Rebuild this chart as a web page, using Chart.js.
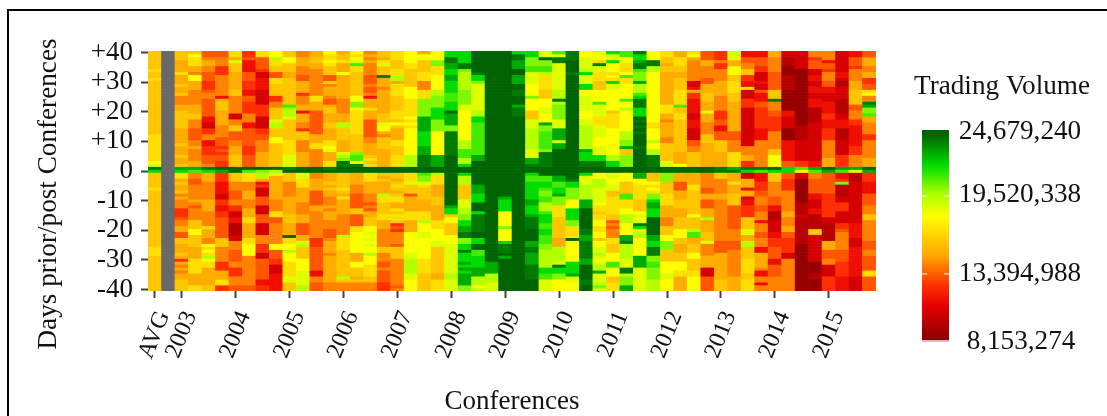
<!DOCTYPE html>
<html>
<head>
<meta charset="utf-8">
<title>Trading Volume</title>
<script src="https://cdn.jsdelivr.net/npm/chart.js@4/dist/chart.umd.min.js"></script>
<style>
  html, body { margin: 0; background: #fff; }
  canvas { display: block; }
</style>
</head>
<body>
<canvas id="heat" width="1107" height="416"></canvas>
<script>
// one label per column, empty ones get no tick
const conferences = ["AVG", "",
  "2003", "", "", "", "2004", "", "", "", "2005", "", "", "", "2006", "", "", "",
  "2007", "", "", "", "2008", "", "", "", "2009", "", "", "", "2010", "", "", "",
  "2011", "", "", "", "2012", "", "", "", "2013", "", "", "", "2014", "", "", "",
  "2015", "", "", ""];

const dayTicks = [40, 30, 20, 10, 0, -10, -20, -30, -40];
const legendVolumes = [24679240, 19520338, 13394988, 8153274];

// volume in millions for each letter
const levelLetters = "abcdefghijklmnopqrs";
const levelMillions = [8.5, 9.5, 10.3, 11.3, 12.4, 13.2, 14.1, 15, 15.9, 16.8, 17.9, 18.6, 19.4, 20.2, 21, 21.9, 22.9, 23.9, 24.5];

// one string per column, top row is day +40, bottom row is day -40, x = no data
const volumeByColumn = [
  "iiiiiijiij iiiiiiiiii iiiiiiiijj jjjjjjjklr p iiiiijiiii iiiiiiiiii iiiiijjjii iiiiiiiiii",
  "xxxxxxxxxx xxxxxxxxxx xxxxxxxxxx xxxxxxxxxx x xxxxxxxxxx xxxxxxxxxx xxxxxxxxxx xxxxxxxxxx",
  "iiihhhhjhh hihhiggghh iiiiiihhhh hihhhihhiq p jjhihhighg ggeeefgghh ffiihhhihe hghghhiiii",
  "ikjjjhhgkk hhhggggghh hiigggffff gghgggghhq o ggffgggggh gfggggiiik kiiiihhhhj jjjjhhhhjj",
  "ffghhggfff eeefggffff ffddcceegg ddeeefffgr p hhhggggggh hhhgggggjh hhggkjkjmk jjhhhhhhii",
  "ffgggeeegg gggggdhiii hhhhhggggf ffefeffees q eeeddddcce eddeefffff ffiiiggggg eeehhhjjee",
  "jjhliiihhh hhhiiggggg gccggiifff gghhhiiiis s iiigggfffg geeccddbbb bccgggffff ggeeegggff",
  "eefddddfff eeeddffeee egggddffff ffeeeffffs o jjjggghhhg gghhhjjhhh hhjjkkkkgg ggggggggff",
  "jjffffeccd dddcccccee eecccceeff gggghhhhhs n mmhdecccff fcccfffccc cgggeeeccf ffffffddee",
  "kkmjjiiffj jiiiieeggi iiilmmiiik kiiiiiiiis m lhhhhhhhhg gggjjffggg ggggkkfffe ecccdddddd",
  "iikkiiihhi iiiiiiiiom mmliiiiiii jjjjjllllr s iiiggggghh hhhhiiihhh hsjjkkmkkk jjjjjlliii",
  "gghhhgggff hhhheggghh dhhhggeiii gggghhhhhs s lljjjhhhhh gggghhhfff fhhlmiiiik kkklllllmm",
  "hhiihhgggg gggggjjhhh ffffffffhh hjjggggggs s gghhhhffff fhhggggggg ggeeefffff fffddggfff",
  "kjjkjiiiff ighhhgffhi ihhhiihhhh jjklhhhjjr s hhhihihhgg ghghhhgggf ffghhhhghh hhhhhhhggg",
  "hiijhhhkhh hhhhhhgggg ghhhmmiiii hhhhlmnrrs s iiiiijihjh hhhhgggggg gmjjjjiiii iiiiimiggg",
  "kjklojjiii iiiiikknnk jjjjjjjjii iiiinookrs s hhhhgggfff ffiiffffjj kkkkkkkhhh kkiiihiggg",
  "ghghggggff fgffgdhhhj hhhffffffg ghhhhijijs s jjjhhhhggg fgfhhiiikk lklklkkmkk kjjjjiiggg",
  "iihjliiirh hhghhhhhhh hiiilkkhgi iiihhhhhhs s ihihhhhmjj iiiijjhhhg gggggiiggg ffgffffeee",
  "jjjiiijjmm hjjjjiiiii jjjikihhhh jjiiijjjjs s iihijihijj hhjijjiefe ggggfiiiig ggggggggfg",
  "kkkkjjiiii iikkkkjjjj jjkjkjkkkk kkkkkmmmms s jjjliiifhh hhhjjjhhhh kkkkkkkllm mmmmllkkkk",
  "hkkiiiijjj gggjjjnnnn nnqqqqqppp ppqqqrrrrs s onnljiiiih hhhjjjmkkk llkkkkkkkj jjjjiiiiii",
  "kkknnjjjkk kkkmmnnnnp pppnnnnkkk kkkkkqqqqs s mjjjhhhhii ihhhhhjjjk kkklliiiii iiiihhjjjj",
  "pprrqqppqq ppppoooppp sqqqqnnrrr rrrrrsssss s ssssssssss sqppikkiii ikkkllllll llllmmllll",
  "pppprrnmmm mmmnnnnnll kkkkkkkkkk mmmooommps s pmmmiiiiil llmmnnppqq rrnnpprppp qpqpqqqqnn",
  "sssssssrpp nlllllllll mmppoooooo oooooqqsss s ssssqqqppp sssprrrrrr ssppssoopp ppqqqmmmkm",
  "ssssssssss ssssssssss ssssssssss ssssssssss s ssssssssss ssssssssss ssssssssss qqqqmmmlll",
  "ssssssssss ssssssssss ssssssssss ssssssssss s ssssssssqp pppkkkkknk kkkprrrsqs ssssssssss",
  "prrqqqssqq qssrrsssqr rrssssssss ssssssssss s ssssssssss ssssssssss ssssssssss ssssssssss",
  "ppnnnoolll lkkkknkkkk iiilllmmmm mmmlllqqrs s pooppppppq qpppqrrrrs sssqqrrqqq qrrrrrssss",
  "llsnnoomjj jjjiiikkkl lkkkqnnooo ooonrrrrrs s soopponnoo mmmopppoop pooonnmmmm mmppoollll",
  "olrrllllll lllmmmrmnn nnnlllqqqq lqqsssssss s sqqooppqnn njjjjiiiii iihhhmmmmm lrppnnkkkk",
  "rrrssssrss ssssssssss ssssssssss ssssssssss s ssrppnnnnk kkppppnnjj jjskkkkkkk ppppqllkkk",
  "kkllllmpll lppkklllll kkkllmmmmm mmmqppprrs s plllmmmmmq qqsssssssr rqqrrrrrrq qsssssrrss",
  "lkkjrlljjj iiikkkkoll lljjjllllk kklllpprrs s kkmmmlllll kjjijjkkjj kkikkllmlk lmmqlllmnl",
  "pllpkkkjkj pllkkkkkkk ijjjjjkkkk kkkkkmmpps s llkklliijj jjjjiifgfg ggjjiiikkk ookkkiijjj",
  "ookkjjjkoj jkkkkkokkm kkkkkkkmmm nnqiinnnns s kkkiiiiooj jjkkmmmkkk kqqrmmmmml llrrmnnnqq",
  "rppqrronnn qmmmoprrrp ppsrsrsrss ssrsssssss s qqkkjjjjji iiiklklrpl mmkkkkkkqq qqllllllll",
  "kkkrrmmkkk kkkkkkkkkk kkkkjjkkkk mkkmmrrrrs s iiikjkjnnp qqpppsssss sqqpprrrnn oonnnnmmmm",
  "jjiihiihhh hhhhhhhhjj jhhghhhhhg giiiiiills s nnniiiijjj jhhhhgggii ikknnniiii kkkkllkkkk",
  "hhjjjiihhi iiijjjjjoi ijjiiiiiii iiiihhhhks s hhhfffhhhi iihhhiiiik kkiihhhiii kkkjjhhhhh",
  "jkhggggggg ccdheedddd dccdddcccc ffggiiiiis s hhhhjjiiii iiiikiiiim oohhiiikki iiijjkkkkk",
  "fffhhggggf fhhhiiihhh lhhhggggii ihhhhhhhhs s gggggffhhf ffhhhmhhhh iiilgggghh hhcccfffff",
  "eeegeegggg hhhhhggggg eeeffddfff iiiihhhhhr r iiggggghhg gggggggggg gggffffhhh hhhhhhiiii",
  "lllhhkkkii jjjjiiihhh hhhhhhhfff ggggjjjjjq r hhhjhhhiii iffffffffg gggfffgggg ggggghhhhh",
  "ddffggiiee ddjccceeec cccccccccc ccggghheer p cchhhdhhcd deeeeiiiil lhhmmiiiij jjjjiijjjj",
  "ddfffeeccc dccfdddffe eeeeeedddd gggggggggr o dddeeeffgg gffgggdggg ffgggddhhh hhgddggdgg",
  "hhgggggfff fffiiirggg ffeeeeeggg gggiikkkks p iiigggggff fddbbbcccc ddeeeffffd dffffggggg",
  "ccbbbaaabb bbbaaaaaaa ddccccaaaa dddddddffp p ffeeeegggg ggghhggghh ffeeeeeccg gggggggggg",
  "ccccccaaaa aaaaaaaaaa aaaaabbbbb ccccccceeo k ccaaaaaaaa bbbbcbbbbb bbbbaaaaaa aaaaaaaaaa",
  "ggefffccdd ccddccdddb bbbbcccccc cccccccddq o ggfffffddc ccddbbbbbi iccccccccc aaaabbaaaa",
  "gggdffeggg ffddcccddd deedddeeee gggggghhhs q fffffffeee eeeeeccbbb bbbhhhfffg gcccceeeee",
  "cccccccddc bbccccbbbb bccdddbbbb ccccceeeeq o ddenbbbbcc eeecccceef ggggggffff eeeeeddddd",
  "ddfffegggg hhhiiiiiff gggeeddddd ddeeeggggq l bbbccccccc cccccccddd ddcccddddd dddddccccc",
  "ffhhhgghhe effjkggrqn nohhggggee gggggghhhs q eeeddddfff fgggiigggg gggfffggff fffjjfffff"
];

// colour ramp, position is share of the way down the colour bar
const rampPositions = [0, 0.02, 0.17, 0.3, 0.41, 0.6, 0.74, 0.84, 1];
const rampColors = ["#006400", "#006400", "#00dd00", "#a5ff00", "#ffff00", "#ffa500", "#ff3000", "#e60000", "#8b0000"];

const SERIF = '"Liberation Serif", "Times New Roman", serif';
const MAX_VOL = legendVolumes[0];
const MIN_VOL = legendVolumes[3];

function hexToRgb(hex) {
    return [1, 3, 5].map(i => parseInt(hex.slice(i, i + 2), 16));
}

function volumeColor(millions) {
    const t = (MAX_VOL - millions * 1e6) / (MAX_VOL - MIN_VOL);
    let i = 0;
    while (i < rampPositions.length - 2 && t > rampPositions[i + 1]) i++;
    const f = Math.min(1, Math.max(0, (t - rampPositions[i]) / (rampPositions[i + 1] - rampPositions[i])));
    const a = hexToRgb(rampColors[i]);
    const b = hexToRgb(rampColors[i + 1]);
    const c = a.map((v, k) => Math.round(v + (b[k] - v) * f));
    return `rgb(${c[0]},${c[1]},${c[2]})`;
}

const columns = volumeByColumn.map(s => s.replace(/ /g, ""));
columns.forEach((s, i) => {
    if (s.length !== 81) throw new Error("column " + i + " has " + s.length + " rows");
});

function cellColor(letter) {
    const idx = levelLetters.indexOf(letter);
    return idx < 0 ? "#696969" : volumeColor(levelMillions[idx]);
}

// one floating bar dataset per day, every column gets its own colour
const datasets = [];
for (let r = 0; r < 81; r++) {
    const day = 40 - r;
    datasets.push({
        data: conferences.map(() => [day - 0.5, day + 0.5]),
        backgroundColor: columns.map(s => cellColor(s[r])),
        borderWidth: 0,
        barPercentage: 1,
        categoryPercentage: 1,
        grouped: false,
    });
}

const frameAndLegend = {
    id: "frameAndLegend",
    afterDraw(chart) {
        const ctx = chart.ctx;
        ctx.save();

        // outer frame, only left and top are inside the picture
        ctx.fillStyle = "#000";
        ctx.fillRect(7, 9, 1100, 2);
        ctx.fillRect(7, 9, 2, 407);

        ctx.fillStyle = "#111";
        ctx.font = "27.2px " + SERIF;
        ctx.textAlign = "center";
        ctx.textBaseline = "middle";

        ctx.save();
        ctx.translate(49, 194);
        ctx.rotate(-Math.PI / 2);
        ctx.fillText("Days prior/post Conferences", 0, 0);
        ctx.restore();

        ctx.fillText("Trading Volume", 1002, 87);

        // colour bar
        const barX = 922, barW = 27, barTop = 130, barH = 210;
        const grad = ctx.createLinearGradient(0, barTop, 0, barTop + barH);
        rampPositions.forEach((p, i) => grad.addColorStop(p, rampColors[i]));
        ctx.fillStyle = grad;
        ctx.fillRect(barX, barTop, barW, barH);
        ctx.fillStyle = "#e8b4bc";
        ctx.fillRect(barX, barTop + barH, barW, 2);

        const labelY = [132, 195, 274, 342];
        ctx.textAlign = "center";
        legendVolumes.forEach((v, i) => {
            ctx.fillStyle = "#111";
            ctx.fillText(v.toLocaleString("en-US"), i === 3 ? 1021 : 1020, labelY[i]);
            if (i === 1 || i === 2) {
                const y = barTop + barH * (MAX_VOL - v) / (MAX_VOL - MIN_VOL);
                ctx.fillStyle = "#fff";
                ctx.fillRect(barX, y, 5, 1);
                ctx.fillRect(barX + barW - 5, y, 5, 1);
            }
        });
        ctx.restore();
    },
};

new Chart(document.getElementById("heat").getContext("2d"), {
    type: "bar",
    data: { labels: conferences, datasets },
    options: {
        responsive: false,
        devicePixelRatio: 1,
        animation: false,
        events: [],
        layout: { padding: { top: 51, right: 231, left: 0, bottom: 0 } },
        plugins: { legend: { display: false }, tooltip: { enabled: false }, title: { display: false } },
        scales: {
            x: {
                type: "category",
                stacked: false,
                afterBuildTicks(scale) {
                    scale.ticks = scale.ticks.filter(t => conferences[t.value] !== "");
                },
                afterFit(scale) { scale.height = 125; },
                grid: { drawOnChartArea: false, drawTicks: true, tickLength: 7, tickWidth: 2, tickColor: "#444", offset: false },
                border: { display: false },
                ticks: {
                    autoSkip: false,
                    maxRotation: 68,
                    minRotation: 68,
                    padding: 9,
                    labelOffset: 9,
                    color: "#111",
                    font: { family: SERIF, size: 24 },
                },
                title: { display: true, text: "Conferences", color: "#111", font: { family: SERIF, size: 27 }, padding: { top: 0, bottom: -2 } },
            },
            y: {
                type: "linear",
                min: -40.5,
                max: 40.5,
                afterBuildTicks(scale) {
                    scale.ticks = dayTicks.map(value => ({ value }));
                },
                afterFit(scale) { scale.width = 148; },
                grid: { drawOnChartArea: false, tickLength: 7, tickWidth: 2, tickColor: "#444" },
                border: { display: false },
                ticks: {
                    autoSkip: false,
                    padding: 8,
                    color: "#111",
                    font: { family: SERIF, size: 27 },
                    callback: v => (v > 0 ? "+" + v : String(v)),
                },
            },
        },
    },
    plugins: [frameAndLegend],
});
</script>
</body>
</html>
